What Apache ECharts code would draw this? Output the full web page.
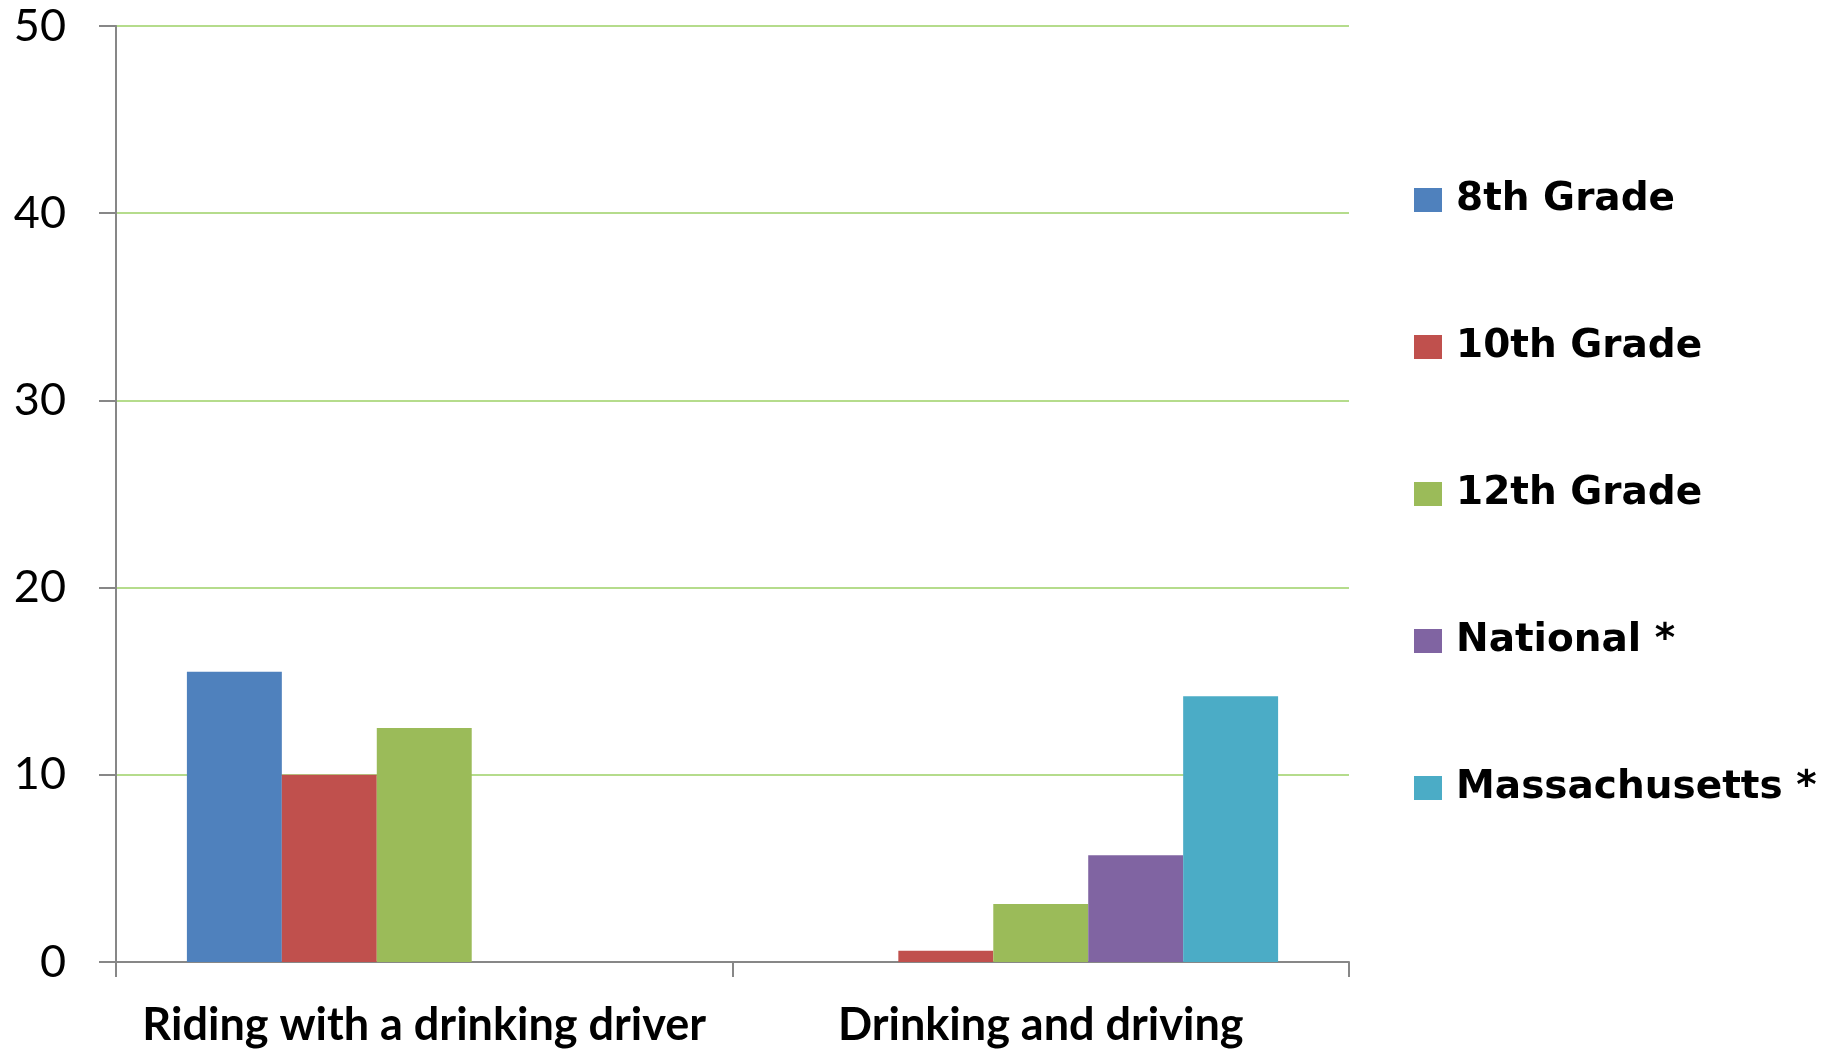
<!DOCTYPE html>
<html>
<head>
<meta charset="utf-8">
<script src="https://cdn.jsdelivr.net/npm/echarts@6/dist/echarts.min.js"></script>
<style>
html,body{margin:0;padding:0;background:#fff;}
#chart{width:1835px;height:1052px;}
</style>
</head>
<body>
<div id="chart"></div>
<script>
var categories = ['Riding with a drinking driver', 'Drinking and driving'];
var seriesNames = ['8th Grade', '10th Grade', '12th Grade', 'National *', 'Massachusetts *'];
var grade8 = [15.5, 0];
var grade10 = [10.0, 0.6];
var grade12 = [12.5, 3.1];
var national = [0, 5.7];
var massachusetts = [0, 14.2];
var yTicks = [0, 10, 20, 30, 40, 50];

var colors = ['#4f81bd', '#c0504d', '#9bbb59', '#8064a2', '#4bacc6'];
var values = [grade8, grade10, grade12, national, massachusetts];

var chart = echarts.init(document.getElementById('chart'));
chart.setOption({
  animation: false,
  color: colors,
  grid: {left: 116, right: 486, top: 26, bottom: 90, containLabel: false},
  legend: {
    orient: 'vertical',
    left: 1409,
    top: 175,
    itemWidth: 28,
    itemHeight: 24,
    itemGap: 107,
    icon: 'rect',
    data: seriesNames,
    textStyle: {fontFamily: 'DejaVu Sans', fontWeight: 'bold', fontSize: 39, color: '#000', lineHeight: 40, padding: [0, 0, 0, 9]}
  },
  xAxis: {
    type: 'category',
    data: categories,
    axisLine: {lineStyle: {color: '#878787', width: 2}},
    axisTick: {show: true, length: 15, lineStyle: {color: '#878787', width: 2}},
    axisLabel: {interval: 0, fontFamily: 'Lato', fontWeight: 'bold', fontSize: 45, color: '#000', margin: 41}
  },
  yAxis: {
    type: 'value',
    min: yTicks[0],
    max: yTicks[yTicks.length - 1],
    interval: 10,
    axisLine: {show: true, lineStyle: {color: '#878787', width: 2}},
    axisTick: {show: true, length: 17, lineStyle: {color: '#878787', width: 2}},
    axisLabel: {fontFamily: 'Lato', fontSize: 45, color: '#000', margin: 50},
    splitLine: {lineStyle: {color: '#b5dc8c', width: 2}}
  },
  series: seriesNames.map(function (n, i) {
    return {
      name: n,
      type: 'bar',
      data: values[i],
      barGap: '0%',
      barCategoryGap: '23%'
    };
  })
});
</script>
</body>
</html>
